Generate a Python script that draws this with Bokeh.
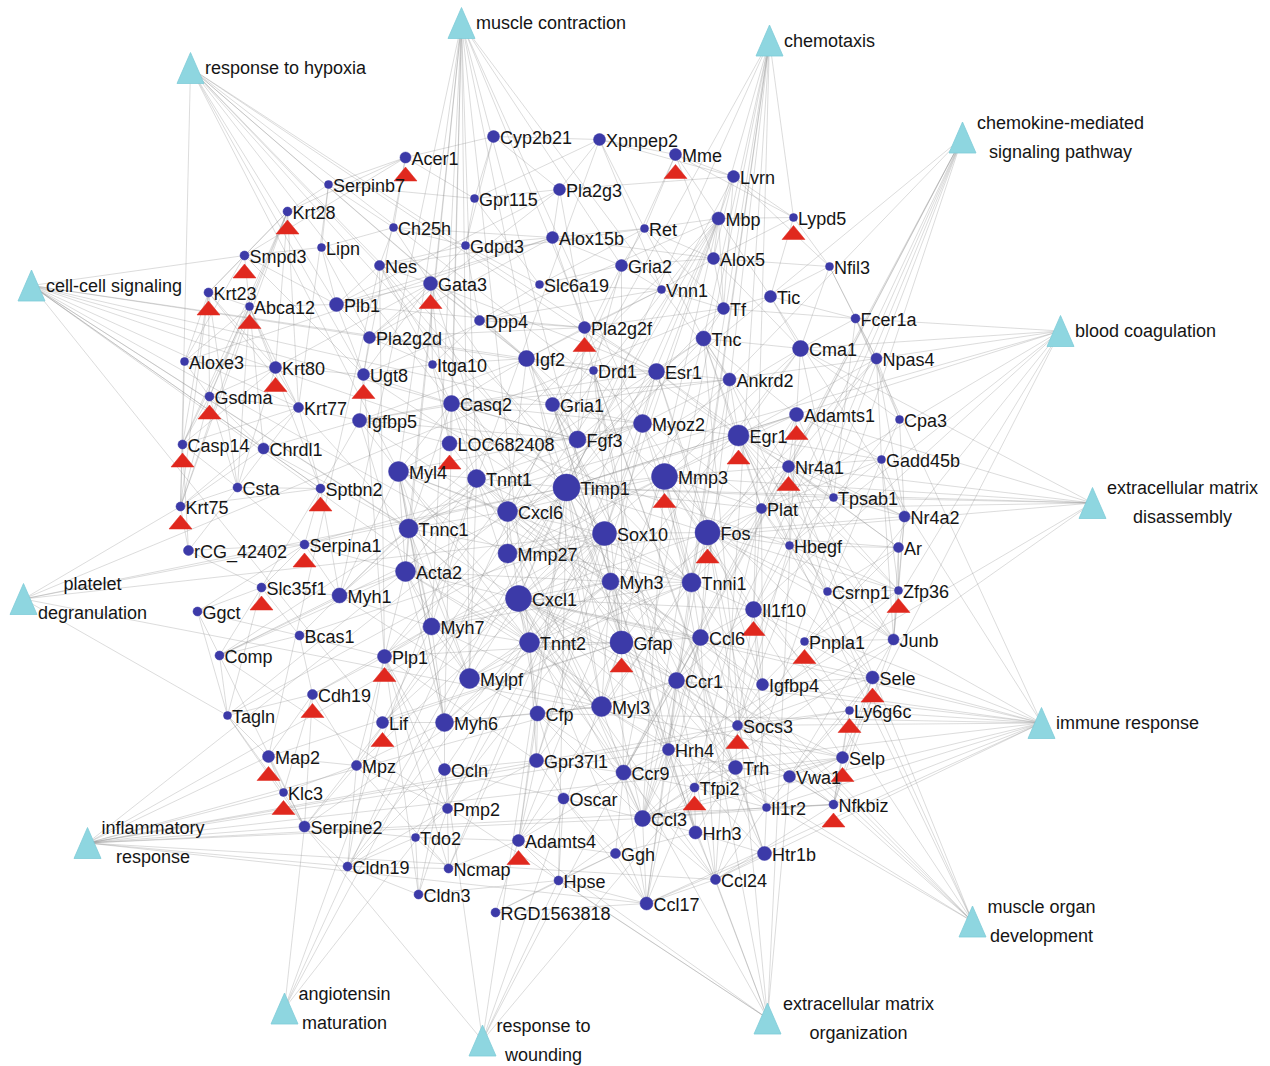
from bokeh.plotting import figure
from bokeh.models import Range1d, ColumnDataSource
from bokeh.core.properties import value
from bokeh.embed import file_html
from bokeh.resources import INLINE

# ---------------- data: genes ----------------
genes = ["Acer1", "Cyp2b21", "Xpnpep2", "Mme", "Lvrn", "Serpinb7", "Gpr115", "Pla2g3", "Mbp", "Lypd5",
         "Krt28", "Ch25h", "Ret", "Alox15b", "Gdpd3", "Lipn", "Smpd3", "Nes", "Gria2", "Alox5",
         "Nfil3", "Gata3", "Slc6a19", "Vnn1", "Krt23", "Abca12", "Plb1", "Tic", "Tf", "Fcer1a",
         "Dpp4", "Pla2g2f", "Pla2g2d", "Tnc", "Cma1", "Npas4", "Aloxe3", "Krt80", "Itga10", "Igf2",
         "Drd1", "Esr1", "Ugt8", "Ankrd2", "Gsdma", "Krt77", "Casq2", "Gria1", "Adamts1", "Igfbp5",
         "Myoz2", "Cpa3", "Casp14", "Chrdl1", "LOC682408", "Fgf3", "Egr1", "Gadd45b", "Nr4a1", "Myl4",
         "Tnnt1", "Timp1", "Mmp3", "Csta", "Sptbn2", "Krt75", "Tpsab1", "Plat", "Nr4a2", "Cxcl6",
         "Tnnc1", "Sox10", "Fos", "Hbegf", "Ar", "rCG_42402", "Serpina1", "Mmp27", "Acta2", "Myh3",
         "Tnni1", "Slc35f1", "Myh1", "Cxcl1", "Csrnp1", "Zfp36", "Ggct", "Il1f10", "Bcas1", "Myh7",
         "Tnnt2", "Gfap", "Ccl6", "Pnpla1", "Junb", "Comp", "Plp1", "Mylpf", "Ccr1", "Igfbp4",
         "Sele", "Cdh19", "Tagln", "Lif", "Myh6", "Cfp", "Myl3", "Ly6g6c", "Socs3", "Map2",
         "Mpz", "Ocln", "Gpr37l1", "Hrh4", "Ccr9", "Trh", "Vwa1", "Selp", "Klc3", "Tfpi2",
         "Oscar", "Pmp2", "Il1r2", "Nfkbiz", "Serpine2", "Ccl3", "Hrh3", "Tdo2", "Adamts4", "Ggh",
         "Htr1b", "Cldn19", "Ncmap", "Hpse", "Ccl24", "Cldn3", "Ccl17", "RGD1563818"]

# node degree (drives the circle size)
gene_degree = [10, 12, 12, 12, 12, 4, 4, 12, 14, 4,
               6, 4, 4, 12, 4, 4, 6, 8, 12, 12,
               4, 16, 4, 4, 6, 4, 16, 12, 12, 6,
               8, 12, 12, 18, 20, 10, 4, 12, 4, 20,
               4, 20, 12, 14, 6, 8, 20, 16, 16, 16,
               24, 4, 6, 10, 18, 22, 30, 4, 12, 28,
               24, 42, 40, 6, 6, 6, 4, 8, 10, 28,
               26, 36, 38, 4, 8, 8, 6, 26, 28, 22,
               26, 6, 18, 40, 4, 4, 6, 20, 6, 22,
               28, 34, 20, 4, 10, 6, 16, 28, 20, 12,
               14, 8, 4, 12, 24, 18, 28, 4, 8, 12,
               8, 12, 16, 12, 18, 16, 12, 12, 4, 6,
               10, 8, 4, 6, 10, 20, 14, 4, 12, 8,
               16, 6, 6, 6, 8, 6, 14, 6]

# genes flagged with a red triangle
marked_genes = ["Acer1", "Mme", "Lypd5", "Krt28", "Smpd3", "Gata3", "Krt23", "Abca12", "Pla2g2f",
                "Krt80", "Ugt8", "Gsdma", "Adamts1", "Casp14", "LOC682408", "Egr1", "Nr4a1", "Mmp3",
                "Sptbn2", "Krt75", "Fos", "Serpina1", "Slc35f1", "Zfp36", "Il1f10", "Gfap", "Pnpla1",
                "Plp1", "Sele", "Cdh19", "Lif", "Ly6g6c", "Socs3", "Map2", "Selp", "Klc3", "Tfpi2",
                "Nfkbiz", "Adamts4"]

# ---------------- data: GO terms ----------------
go_label_lines = [["muscle contraction"], ["chemotaxis"], ["response to hypoxia"],
                  ["chemokine-mediated", "signaling pathway"], ["cell-cell signaling"],
                  ["blood coagulation"], ["extracellular matrix", "disassembly"],
                  ["platelet", "degranulation"], ["immune response"], ["inflammatory", "response"],
                  ["muscle organ", "development"], ["angiotensin", "maturation"],
                  ["response to", "wounding"], ["extracellular matrix", "organization"]]
go_terms = [" ".join(l) for l in go_label_lines]

go_links = {
    "muscle contraction": "Myl4 Tnnt1 Tnnc1 Acta2 Myh7 Myh6 Myh1 Mylpf Casq2 Tnnt2 Myh3 Myoz2 Tnni1 Myl3 Gria2 Ankrd2",
    "chemotaxis": "Ccl6 Ccr1 Ccl3 Ccr9 Ccl17 Ccl24 Cxcl1 Cxcl6 Mbp Tnc Il1f10 Lypd5",
    "response to hypoxia": "Timp1 Casq2 Igf2 Esr1 Egr1 Mmp3 Plat Ugt8 Myl4 Tnni1 Nes Krt75 Plb1",
    "chemokine-mediated signaling pathway": "Ccl6 Ccr1 Ccl3 Ccr9 Ccl17 Ccl24 Cxcl1 Cxcl6 Il1f10 Socs3",
    "cell-cell signaling": "Smpd3 Fgf3 Igf2 Gria1 Drd1 Lif Hbegf Mmp27 Tnnc1 Sptbn2 Krt77 Chrdl1 Cxcl1 Tnnt2",
    "blood coagulation": "Fcer1a Plat Tfpi2 Selp Vwa1 Serpina1 Hbegf Cma1 Timp1 Npas4 Il1f10",
    "extracellular matrix disassembly": "Tpsab1 Mmp3 Mmp27 Cma1 Adamts1 Adamts4 Timp1 Hpse Nr4a1 Plat",
    "platelet degranulation": "Serpina1 Timp1 Selp Tf Tagln Krt75 Sox10",
    "immune response": "Sele Ly6g6c Socs3 Cxcl1 Ccl3 Ccl17 Ccl24 Ccr1 Ccr9 Il1r2 Nfkbiz Cfp Il1f10 Junb Tic Fcer1a Igfbp4",
    "inflammatory response": "Serpine2 Klc3 Ccl3 Ccl24 Ccl17 Ccr1 Cxcl1 Cxcl6 Hrh4 Selp Nfkbiz Socs3 Ly6g6c Map2 Cldn19",
    "muscle organ development": "Egr1 Myh3 Acta2 Tnnt1 Myl3 Casq2 Myoz2 Nr4a1 Ankrd2 Ccl6",
    "angiotensin maturation": "Mme Xpnpep2 Lvrn Cma1 Serpine2",
    "response to wounding": "Serpine2 Tfpi2 Gfap Hpse Plat Timp1 Ocln",
    "extracellular matrix organization": "Adamts4 Adamts1 Mmp27 Tnc Comp Timp1 Mmp3 Hpse Vwa1 Ccl24",
}

gene_links = {
    "Timp1": "Mmp3 Fos Egr1 Cxcl1 Cxcl6 Mmp27 Sox10 Gfap Myl3 Tnnt1 Igf2 Esr1 Plat Serpine2 Adamts4 Adamts1 Cma1 Tpsab1 Hpse Serpina1 Comp Tnc Casq2 Fgf3 Ccl3",
    "Mmp3": "Fos Egr1 Cxcl1 Cxcl6 Mmp27 Il1f10 Socs3 Nr4a1 Tnc Adamts1 Adamts4 Cma1 Plat Ccl3 Sele Selp Tagln Myoz2 Tnni1",
    "Fos": "Egr1 Nr4a1 Nr4a2 Junb Gadd45b Zfp36 Socs3 Npas4 Csrnp1 Esr1 Ar Cxcl1 Gfap Sox10 Hbegf Ccl6 Ccr1 Tnni1 Il1r2",
    "Egr1": "Nr4a1 Nr4a2 Junb Zfp36 Gadd45b Npas4 Hbegf Csrnp1 Adamts1 Plat Cma1 Ankrd2 Tnc Esr1 Myoz2",
    "Cxcl1": "Cxcl6 Ccl3 Ccl17 Ccl24 Ccl6 Ccr1 Ccr9 Sele Selp Socs3 Nfkbiz Lif Il1r2 Tnnt2 Myh7 Cfp Gfap Mylpf Myh3 Il1f10 Acta2",
    "Cxcl6": "Ccl3 Ccl6 Ccr1 Tnnt1 Myl4 Tnnc1 Mmp27 Sox10 Gata3 Igf2 Casq2",
    "Sox10": "Gfap Mbp Plp1 Mpz Pmp2 Ncmap Cldn19 Bcas1 Ugt8 Gata3 Myh3 Tnni1 Mmp27 Cxcl1 Nes Ocln Gpr37l1 Esr1",
    "Gfap": "Nes Mbp Plp1 Gpr37l1 Myl3 Ccr9 Ccl6 Tnnt2 Myh3 Gria1 Gria2 Lif Socs3 Trh Hrh3 Drd1",
    "Myl4": "Tnnt1 Tnnc1 Acta2 Myh7 Myh6 Myh1 Mylpf Casq2 Myl3 Tnnt2 Myh3 Tnni1 LOC682408 Myoz2 Igfbp5",
    "Tnnt1": "Tnnc1 Tnni1 Myh7 Myh1 Mylpf Myl3 Casq2 Myoz2 Tnnt2 Myh3 Acta2 LOC682408",
    "Tnnc1": "Acta2 Myh7 Myh6 Mylpf Tnnt2 Tnni1 Myl3 Myh1 Casq2 Myoz2 Chrdl1 Krt77",
    "Acta2": "Myh7 Myh1 Mylpf Tnnt2 Tagln Comp Myh6 Myh3 Plp1 Serpina1 Igfbp5",
    "Myh7": "Myh6 Myh1 Mylpf Tnnt2 Myl3 Myh3 Tnni1 Plp1 Lif Cdh19",
    "Tnnt2": "Mylpf Myl3 Myh6 Myh3 Tnni1 Cfp Gpr37l1 Ccr9",
    "Myh3": "Tnni1 Myl3 Mylpf Myh6 Ccl6 Ccr1 Myoz2",
    "Tnni1": "Myl3 Mylpf Myoz2 Ankrd2 Ccl6 Il1f10 Plat",
    "Myl3": "Mylpf Myh6 Cfp Ccr1 Ccr9 Hrh4",
    "Mylpf": "Myh6 Cfp Myh1",
    "Myh6": "Ocln Mpz Lif",
    "Casq2": "Myoz2 Ankrd2 LOC682408 Igf2 Fgf3 Gria1 Ugt8 Itga10",
    "Myoz2": "Ankrd2 Esr1 Fgf3 Gria1",
    "Igf2": "Esr1 Fgf3 Drd1 Gria1 Gata3 Igfbp5 Igfbp4 Dpp4 Pla2g2f Itga10 Vnn1",
    "Esr1": "Ar Fgf3 Tnc Ankrd2 Drd1 Gata3 Pla2g2f Igfbp4 Igfbp5",
    "Fgf3": "Gria1 Drd1 Pla2g2f LOC682408 Igfbp5",
    "Gria1": "Gria2 Drd1 Trh Hrh3 Hrh4 Npas4 Htr1b",
    "Gria2": "Drd1 Alox15b Slc6a19 Vnn1 Ret",
    "Drd1": "Htr1b Trh Hrh3 Hrh4 Pla2g2f",
    "Gata3": "Nes Plb1 Pla2g2d Ch25h Gdpd3 Itga10 Dpp4 Krt80 Ugt8",
    "Alox15b": "Alox5 Pla2g3 Pla2g2f Pla2g2d Aloxe3 Gdpd3 Plb1 Ret",
    "Pla2g3": "Pla2g2f Pla2g2d Plb1 Cyp2b21 Gpr115 Xpnpep2 Lvrn",
    "Pla2g2f": "Pla2g2d Plb1 Dpp4 Vnn1 Tf",
    "Pla2g2d": "Plb1 Ugt8 Itga10 Lipn",
    "Plb1": "Lipn Nes Ugt8 Smpd3 Abca12",
    "Acer1": "Smpd3 Ugt8 Ch25h Serpinb7 Cyp2b21 Krt28 Gpr115",
    "Smpd3": "Krt23 Abca12 Lipn Ugt8 Krt28 Aloxe3",
    "Krt28": "Krt23 Krt80 Krt77 Krt75 Serpinb7 Abca12 Gsdma Casp14",
    "Krt23": "Krt80 Krt77 Krt75 Abca12 Aloxe3 Gsdma Casp14 Csta",
    "Abca12": "Aloxe3 Krt80 Krt77 Gsdma Casp14 Csta Krt75 Sptbn2 Chrdl1",
    "Aloxe3": "Gsdma Casp14 Krt80",
    "Krt80": "Krt77 Gsdma Casp14 Csta Ugt8",
    "Krt77": "Gsdma Casp14 Csta Krt75 Sptbn2 Igfbp5",
    "Gsdma": "Casp14 Csta Krt75 Chrdl1",
    "Casp14": "Csta Krt75 rCG_42402",
    "Csta": "Krt75 rCG_42402 Sptbn2 Serpina1",
    "Serpinb7": "Ch25h Lipn Gpr115 Krt77",
    "Ch25h": "Nes Gdpd3 Lipn Gata3 Alox15b",
    "Nes": "Mbp Plp1 Gdpd3 Itga10",
    "Mbp": "Plp1 Mpz Pmp2 Ugt8 Lypd5 Alox5 Tf Tic Ncmap Cldn19 Bcas1 Gpr37l1 Mme",
    "Plp1": "Mpz Pmp2 Ugt8 Bcas1 Cldn19 Ncmap Tf Cdh19 Gpr37l1 Ocln Cldn3",
    "Mpz": "Pmp2 Ncmap Cldn19 Cdh19 Map2 Klc3 Serpine2",
    "Pmp2": "Ncmap Cldn19 Cldn3 Ocln Tdo2",
    "Ocln": "Cldn3 Cldn19 Tdo2 Gpr37l1 Oscar",
    "Cldn19": "Cldn3 Ncmap",
    "Bcas1": "Cdh19 Slc35f1 Comp Ggct",
    "Cdh19": "Map2 Klc3 Tagln Serpine2",
    "Map2": "Klc3 Serpine2 Gfap Nes Tagln",
    "Tf": "Tic Alox5 Tnc Lvrn Vnn1 Ret Fcer1a",
    "Tic": "Nfil3 Fcer1a Cma1 Lypd5",
    "Tnc": "Cma1 Ankrd2 Comp Plat Adamts1 Nr4a1 Ret",
    "Cma1": "Tpsab1 Cpa3 Fcer1a Npas4 Adamts1 Nfil3 Alox5",
    "Npas4": "Nr4a1 Nr4a2 Cpa3 Gadd45b Fcer1a Nfil3",
    "Cpa3": "Tpsab1 Fcer1a Gadd45b Nr4a2",
    "Adamts1": "Nr4a1 Plat Adamts4 Gadd45b Tpsab1",
    "Nr4a1": "Nr4a2 Junb Zfp36 Gadd45b Hbegf Csrnp1 Plat Tpsab1 Ar",
    "Nr4a2": "Junb Zfp36 Ar Tpsab1 Gadd45b",
    "Gadd45b": "Zfp36 Junb Csrnp1 Tpsab1",
    "Plat": "Hbegf Serpine2 Tfpi2 Il1f10 Igfbp4 Tpsab1 Sele",
    "Hbegf": "Csrnp1 Zfp36 Ar Junb Socs3 Il1f10",
    "Ar": "Csrnp1 Junb Zfp36 Pnpla1",
    "Csrnp1": "Zfp36 Junb Pnpla1",
    "Zfp36": "Junb Pnpla1 Socs3",
    "Junb": "Socs3 Sele Nfkbiz Pnpla1",
    "Il1f10": "Ccl6 Socs3 Pnpla1 Igfbp4 Ccr1 Il1r2 Ly6g6c",
    "Ccl6": "Ccr1 Ccl3 Ccl24 Ccl17 Ccr9 Igfbp4 Hrh4",
    "Ccr1": "Ccl3 Ccl24 Ccl17 Ccr9 Socs3 Hrh4 Trh",
    "Ccl3": "Ccl17 Ccl24 Ccr9 Socs3 Hrh4 Hrh3 Tfpi2 Ggh Oscar Cfp Il1r2 Nfkbiz Selp",
    "Ccl17": "Ccl24 Ccr9 Ggh Hpse RGD1563818 Oscar Htr1b",
    "Ccl24": "Ccr9 Htr1b Hrh3 Il1r2 Nfkbiz",
    "Ccr9": "Oscar Gpr37l1 Cfp Hrh4 Ggh Tfpi2",
    "Sele": "Selp Ly6g6c Socs3 Nfkbiz Vwa1 Igfbp4 Pnpla1",
    "Selp": "Ly6g6c Vwa1 Nfkbiz Il1r2 Socs3 Tfpi2",
    "Socs3": "Nfkbiz Il1r2 Ly6g6c Trh Vwa1 Igfbp4",
    "Trh": "Hrh3 Hrh4 Htr1b Vwa1 Tfpi2",
    "Hrh3": "Hrh4 Htr1b Ggh Tfpi2",
    "Hrh4": "Htr1b Tfpi2",
    "Htr1b": "Il1r2 Ccl24",
    "Cfp": "Oscar Gpr37l1 Myh6 Adamts4",
    "Gpr37l1": "Oscar Ocln Adamts4 Pmp2",
    "Oscar": "Adamts4 Ggh Hpse",
    "Adamts4": "Hpse Ncmap RGD1563818 Tdo2 Ggh",
    "Hpse": "RGD1563818 Ggh Cldn3",
    "Tdo2": "Cldn19 Ncmap Cldn3 Serpine2",
    "Serpine2": "Klc3 Tagln Cldn19 Tdo2 Comp",
    "Comp": "Tagln Ggct Bcas1 Slc35f1 Myh1",
    "Tagln": "Ggct Slc35f1 Klc3",
    "Slc35f1": "Ggct Sptbn2 Serpina1 rCG_42402 Myh1",
    "Serpina1": "rCG_42402 Ggct Sptbn2 Myh1",
    "Sptbn2": "Chrdl1 Krt75 Myh1 Igfbp5",
    "Chrdl1": "Igfbp5 Krt75 Tnnc1",
    "Igfbp5": "Krt77 LOC682408 Ugt8 Casq2 Igfbp4",
    "Ugt8": "Itga10 Krt80",
    "Itga10": "Dpp4 LOC682408",
    "Dpp4": "Gdpd3 Slc6a19 Vnn1",
    "Slc6a19": "Vnn1 Gdpd3 Ret Gpr115",
    "Gpr115": "Gdpd3 Cyp2b21 Xpnpep2",
    "Cyp2b21": "Xpnpep2 Gdpd3 Pla2g3",
    "Xpnpep2": "Mme Lvrn Ret Vnn1",
    "Mme": "Lvrn Mbp Lypd5 Ret Alox5",
    "Lvrn": "Lypd5 Mbp Alox5 Nfil3",
    "Lypd5": "Nfil3 Alox5 Tic",
    "Alox5": "Nfil3 Ret Vnn1 Gria2",
    "Nfil3": "Fcer1a Npas4",
    "Fcer1a": "Cpa3 Tpsab1",
    "Tpsab1": "Hbegf",
    "Igfbp4": "Pnpla1 Il1f10",
    "Pnpla1": "Ly6g6c",
    "Ly6g6c": "Vwa1 Nfkbiz",
    "Nfkbiz": "Il1r2 Vwa1",
    "Il1r2": "Vwa1 Tfpi2",
    "Ggh": "RGD1563818",
    "Klc3": "Map2",
    "LOC682408": "Myl4 Tnnt1 Gata3 Casq2",
    "Krt75": "rCG_42402",
}

# ---------------- layout (node placement, in page pixels) ----------------
gene_x = [405, 493, 599, 675, 733, 328, 474, 559, 718, 793,
          287, 393, 644, 552, 465, 321, 244, 379, 621, 713,
          829, 430, 539, 661, 208, 249, 336, 770, 723, 855,
          479, 584, 369, 703, 800, 876, 184, 275, 432, 526,
          593, 656, 363, 729, 209, 298, 451, 552, 796, 359,
          642, 899, 182, 263, 449, 577, 738, 881, 788, 398,
          476, 566, 664, 237, 320, 180, 833, 761, 904, 507,
          408, 604, 707, 789, 898, 188, 304, 507, 405, 610,
          691, 261, 339, 518, 827, 898, 197, 753, 299, 431,
          529, 621, 700, 804, 893, 219, 384, 469, 676, 762,
          872, 312, 227, 382, 444, 537, 601, 849, 737, 268,
          356, 444, 536, 668, 623, 735, 789, 842, 283, 694,
          563, 447, 766, 833, 304, 642, 695, 415, 518, 615,
          764, 347, 448, 558, 715, 418, 646, 495]
gene_y = [157, 136, 139, 154, 176, 184, 198, 189, 218, 217,
          211, 227, 228, 237, 245, 247, 255, 265, 265, 258,
          266, 283, 284, 289, 292, 306, 304, 296, 308, 318,
          320, 327, 337, 338, 348, 358, 361, 367, 364, 358,
          370, 371, 374, 379, 396, 407, 403, 404, 414, 420,
          423, 419, 444, 448, 443, 439, 435, 459, 466, 471,
          478, 487, 476, 487, 488, 506, 497, 508, 516, 511,
          528, 533, 532, 545, 547, 550, 544, 553, 571, 581,
          582, 587, 595, 598, 591, 590, 611, 609, 635, 626,
          642, 642, 637, 641, 639, 655, 656, 678, 680, 684,
          677, 694, 715, 722, 722, 713, 706, 710, 725, 756,
          765, 769, 760, 749, 772, 767, 776, 757, 792, 787,
          798, 808, 807, 804, 826, 818, 832, 837, 840, 853,
          853, 866, 868, 880, 879, 894, 903, 912]

go_x = [461, 769, 190, 962, 31, 1060, 1092, 23, 1041, 87, 972, 284, 482, 767]
go_y = [22.5, 40, 67.5, 137, 285, 330.5, 502.5, 598.5, 722.5, 842.5, 921, 1008, 1040, 1018]
go_label_dx = [14.5, 14.5, 14.5, 98, 14.5, 14.5, 90, 69, 14.5, 65.5, 69, 60, 61, 91]

# ---------------- build ----------------
W, H = 1270, 1066
FONT = value("Liberation Sans")
BLUE = "#3C3AA8"
RED = "#E0281E"
CYAN = "#8ED6E0"

pos = {g: (x, y) for g, x, y in zip(genes, gene_x, gene_y)}
for t, x, y in zip(go_terms, go_x, go_y):
    pos[t] = (x, y)
radius = {g: 3 + 0.25 * d for g, d in zip(genes, gene_degree)}

pairs = set()
for src, targets in list(go_links.items()) + list(gene_links.items()):
    for t in targets.split():
        if t != src and t in pos:
            pairs.add(tuple(sorted((src, t))))
pairs = sorted(pairs)

p = figure(width=W, height=H, x_range=Range1d(0, W), y_range=Range1d(H, 0),
           output_backend="svg", toolbar_location=None, min_border=0,
           x_axis_type=None, y_axis_type=None)
p.grid.visible = False
p.outline_line_color = None
p.background_fill_color = "white"
p.border_fill_color = "white"

p.segment(x0=[pos[a][0] for a, b in pairs], y0=[pos[a][1] for a, b in pairs],
          x1=[pos[b][0] for a, b in pairs], y1=[pos[b][1] for a, b in pairs],
          line_color="#8a8a8a", line_alpha=0.38, line_width=0.8)

# red triangles under flagged genes
rx, ry = [], []
for g in marked_genes:
    x, y = pos[g]
    top = y + radius[g] + 4
    rx.append([x - 11.5, x + 11.5, x])
    ry.append([top + 14, top + 14, top])
p.patches(rx, ry, fill_color=RED, line_color=RED, line_width=0.5)

# GO term triangles
cx, cy = [], []
for x, y in zip(go_x, go_y):
    cx.append([x - 13.5, x + 13.5, x])
    cy.append([y + 15.5, y + 15.5, y - 15.5])
p.patches(cx, cy, fill_color=CYAN, line_color="#7FCCD8", line_width=0.8)

# gene nodes
src = ColumnDataSource(dict(x=gene_x, y=gene_y, s=[2 * radius[g] for g in genes]))
p.scatter("x", "y", size="s", source=src, marker="circle", fill_color=BLUE, line_color=BLUE, line_width=0.5)

# gene labels
p.text(x=[pos[g][0] + radius[g] + 0.5 for g in genes], y=[pos[g][1] + 1 for g in genes], text=genes,
       text_font=FONT, text_font_size="18px", text_baseline="middle", text_align="left",
       text_color="#151515")

# GO labels
src_l1 = dict(x=[], y=[], t=[])
src_l2 = dict(x=[], y=[], t=[])
for lines, x, y, dx in zip(go_label_lines, go_x, go_y, go_label_dx):
    if len(lines) == 1:
        src_l1["x"].append(x + dx); src_l1["y"].append(y); src_l1["t"].append(lines[0])
    else:
        for i, ln in enumerate(lines):
            src_l2["x"].append(x + dx); src_l2["y"].append(y - 15 + 29 * i); src_l2["t"].append(ln)
p.text(x="x", y="y", text="t", source=ColumnDataSource(src_l1), text_font=FONT, text_font_size="18px",
       text_baseline="middle", text_align="left", text_color="#151515")
p.text(x="x", y="y", text="t", source=ColumnDataSource(src_l2), text_font=FONT, text_font_size="18px",
       text_baseline="middle", text_align="center", text_color="#151515")

open("out.html", "w").write(file_html(p, INLINE))
